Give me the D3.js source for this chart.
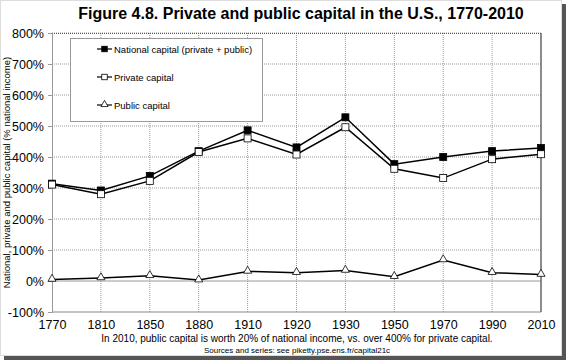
<!DOCTYPE html>
<html>
<head>
<meta charset="utf-8">
<script src="https://cdn.jsdelivr.net/npm/d3@7"></script>
<style>
  body { margin: 0; background: #fff; }
  svg { display: block; font-family: 'Liberation Sans', Arial, sans-serif; }
</style>
</head>
<body>
<svg id="chart" width="569" height="364"></svg>
<script>
let years = ['1770', '1810', '1850', '1880', '1910', '1920', '1930', '1950', '1970', '1990', '2010']
let national = [314, 292, 339, 419, 486, 431, 528, 377, 400, 419, 429]
let privateCap = [311, 280, 323, 416, 460, 408, 496, 362, 332, 393, 409]
let publicCap = [5, 10, 17, 3, 31, 27, 34, 14, 68, 27, 21]
let yTicks = [-100, 0, 100, 200, 300, 400, 500, 600, 700, 800]
let seriesNames = ['National capital  (private + public)', 'Private capital', 'Public capital']

let chart = d3.select('#chart')
let plotLeft = 52, plotRight = 541, plotTop = 33, plotBottom = 312

// frame with drop shadow
chart.append('rect').attr('x', 4).attr('y', 4).attr('width', 562).attr('height', 356).attr('fill', '#555')
chart.append('rect').attr('x', 0.5).attr('y', 0.5).attr('width', 561).attr('height', 355)
    .attr('fill', '#fff').attr('stroke', '#ddd')

let xScale = d3.scalePoint().domain(years).range([plotLeft, plotRight])
let yScale = d3.scaleLinear().domain([-100, 800]).range([plotBottom, plotTop])

// grid
chart.append('g').selectAll('line').data(yTicks.filter((d) => d > -100 && d != 0))
    .enter().append('line')
    .attr('x1', plotLeft).attr('x2', plotRight)
    .attr('y1', (d) => yScale(d)).attr('y2', (d) => yScale(d))
    .attr('stroke', '#999').attr('stroke-dasharray', '1,1')
chart.append('g').selectAll('line').data(years.slice(1, -1))
    .enter().append('line')
    .attr('x1', (d) => xScale(d)).attr('x2', (d) => xScale(d))
    .attr('y1', plotTop).attr('y2', plotBottom)
    .attr('stroke', '#999').attr('stroke-dasharray', '1,1')

// zero line and frame of the plot
chart.append('line').attr('x1', plotLeft).attr('x2', plotRight)
    .attr('y1', yScale(0)).attr('y2', yScale(0)).attr('stroke', '#999')
chart.append('line').attr('x1', plotLeft).attr('x2', plotRight)
    .attr('y1', plotTop + 0.5).attr('y2', plotTop + 0.5).attr('stroke', '#555').attr('stroke-dasharray', '1,1')
chart.append('line').attr('x1', plotRight).attr('x2', plotRight)
    .attr('y1', plotTop).attr('y2', plotBottom).attr('stroke', '#666').attr('stroke-width', 1.5)
chart.append('line').attr('x1', plotLeft).attr('x2', plotRight)
    .attr('y1', plotBottom).attr('y2', plotBottom).attr('stroke', '#888')

// axes
let axisLeft = d3.axisLeft(yScale).tickValues(yTicks).tickSize(4).tickPadding(4).tickFormat((d) => d + '%')
let gy = chart.append('g').attr('transform', 'translate(' + plotLeft + ',0)').call(axisLeft)
gy.select('.domain').attr('stroke', '#999')
gy.selectAll('.tick line').attr('stroke', '#999')
gy.selectAll('text').attr('font-size', 12.5).attr('fill', '#000').attr('font-family', 'Liberation Sans, Arial')

let axisBottom = d3.axisBottom(xScale).tickSize(0).tickPadding(8)
let gx = chart.append('g').attr('transform', 'translate(0,' + plotBottom + ')').call(axisBottom)
gx.select('.domain').remove()
gx.selectAll('text').attr('font-size', 12.5).attr('fill', '#000').attr('font-family', 'Liberation Sans, Arial')

// lines
let line = d3.line().x((d, i) => xScale(years[i])).y((d) => yScale(d))
;[national, privateCap, publicCap].forEach((s) => {
    chart.append('path').datum(s).attr('d', line)
        .attr('fill', 'none').attr('stroke', '#000').attr('stroke-width', 1.5)
})

function drawMarker(g, kind, x, y, sz) {
    sz = sz || 7
    if (kind == 'tri') {
        g.append('path').attr('d', d3.symbol().type(d3.symbolTriangle).size(sz * 4)())
            .attr('transform', 'translate(' + x + ',' + (y - 0.5) + ')')
            .attr('fill', '#fff').attr('stroke', '#000').attr('stroke-width', 0.8)
    } else {
        g.append('rect').attr('x', x - sz / 2).attr('y', y - sz / 2).attr('width', sz).attr('height', sz)
            .attr('fill', kind == 'filled' ? '#000' : '#fff').attr('stroke', '#000').attr('stroke-width', 0.8)
    }
}

let kinds = ['filled', 'open', 'tri']
let markers = chart.append('g')
;[national, privateCap, publicCap].forEach((s, k) => {
    s.forEach((v, i) => drawMarker(markers, kinds[k], xScale(years[i]), yScale(v)))
})

// legend
let legend = chart.append('g')
legend.append('rect').attr('x', 70.5).attr('y', 38.5).attr('width', 192).attr('height', 83)
    .attr('fill', '#fff').attr('stroke', '#999')
seriesNames.forEach((name, i) => {
    let y = 49 + i * 28
    legend.append('line').attr('x1', 97).attr('x2', 112).attr('y1', y).attr('y2', y)
        .attr('stroke', '#000').attr('stroke-width', 1.2)
    drawMarker(legend, kinds[i], 104.5, y, 5.5)
    legend.append('text').attr('x', 114).attr('y', y + 3.5).attr('font-size', 9.5).text(name)
})

// texts
chart.append('text').attr('x', 301).attr('y', 19).attr('text-anchor', 'middle')
    .attr('font-size', 16).attr('font-weight', 'bold').text('Figure 4.8. Private and public capital in the U.S., 1770-2010')
chart.append('text').attr('transform', 'translate(10,' + ((plotTop + plotBottom) / 2) + ') rotate(-90)')
    .attr('text-anchor', 'middle').attr('font-size', 9.5)
    .text('National, private and public capital (% national income)')
chart.append('text').attr('x', 297).attr('y', 342).attr('text-anchor', 'middle').attr('font-size', 10)
    .text('In 2010, public capital is worth 20% of national income, vs. over 400% for private capital.')
chart.append('text').attr('x', 297).attr('y', 353).attr('text-anchor', 'middle').attr('font-size', 8)
    .text('Sources and series:  see piketty.pse.ens.fr/capital21c')
</script>
</body>
</html>
